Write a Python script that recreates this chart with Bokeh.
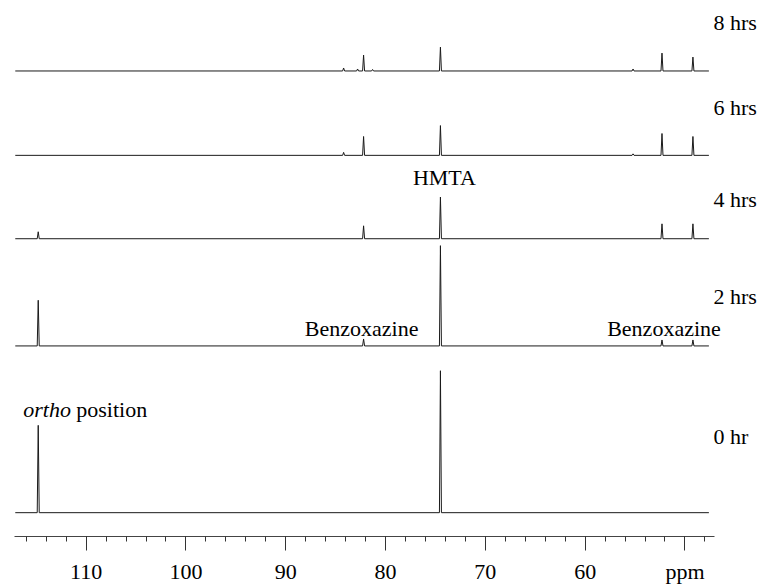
from bokeh.plotting import figure
from bokeh.models import Range1d, FixedTicker
from bokeh.embed import file_html
from bokeh.resources import INLINE
from bokeh.core.properties import value

# ---- data ----
spectrum_labels = ["0 hr", "2 hrs", "4 hrs", "6 hrs", "8 hrs"]
stack_offsets = [24, 192, 300, 384, 469]          # baseline of each trace
ppm_start = 117.1
ppm_end = 47.6
peak_ppm = [114.8, 84.2, 82.8, 82.2, 81.3, 74.5, 55.2, 52.3, 49.2]
heights_0hr = [88, 0, 0, 0, 0, 143, 0, 0, 0]
heights_2hrs = [46, 0, 0, 7, 0, 101, 0, 6, 6]
heights_4hrs = [7, 0, 0, 13, 0, 42, 0, 15, 15]
heights_6hrs = [0, 3, 0, 19, 0, 30, 1.5, 22, 19]
heights_8hrs = [0, 3, 2, 16, 1.5, 24, 2, 18, 14]
all_heights = [heights_0hr, heights_2hrs, heights_4hrs, heights_6hrs, heights_8hrs]

label_baselines = [101, 242, 340, 432, 518]
label_x_ppm = 47.15

annot_text = ["HMTA", "Benzoxazine", "Benzoxazine"]
annot_ppm = [74.1, 82.4, 52.1]
annot_y = [362, 210, 210]

ortho_ppm = 116.3
ortho_y = 128

major_ticks = [50, 60, 70, 80, 90, 100, 110]
minor_ticks = list(range(48, 118, 2))
tick_overrides = {50: "ppm"}

FONT = value("Liberation Serif")
FSIZE = "22px"

p = figure(width=758, height=586, output_backend="svg", toolbar_location=None,
           x_range=Range1d(118.58, 42.63), y_range=Range1d(0, 540),
           y_axis_location=None, min_border_left=0, min_border_right=0,
           min_border_top=0, min_border_bottom=46)
p.outline_line_color = None
p.xgrid.visible = False
p.ygrid.visible = False

peak_half_width = 0.1
for heights, base in zip(all_heights, stack_offsets):
    xs = [ppm_start]
    ys = [base]
    for pk, h in zip(peak_ppm, heights):
        if h > 0:
            xs += [pk + peak_half_width, pk, pk - peak_half_width]
            ys += [base, base + h, base]
    xs.append(ppm_end)
    ys.append(base)
    p.line(xs, ys, line_color="#1a1a1a", line_width=1)

p.text(x=[label_x_ppm] * len(spectrum_labels), y=label_baselines, text=spectrum_labels,
       text_font=FONT, text_font_size=FSIZE, text_align="left",
       text_baseline="alphabetic", text_color="black")
p.text(x=annot_ppm, y=annot_y, text=annot_text, text_font=FONT, text_font_size=FSIZE,
       text_align="center", text_baseline="alphabetic", text_color="black")
p.text(x=[ortho_ppm], y=[ortho_y], text=["ortho"], text_font=FONT, text_font_size=FSIZE,
       text_font_style="italic", text_align="left", text_baseline="alphabetic",
       text_color="black")
p.text(x=[ortho_ppm], y=[ortho_y], text=["position"], text_font=FONT, text_font_size=FSIZE,
       x_offset=53, text_align="left", text_baseline="alphabetic", text_color="black")

ax = p.xaxis[0]
ax.ticker = FixedTicker(ticks=major_ticks, minor_ticks=minor_ticks)
ax.major_label_overrides = tick_overrides
ax.bounds = (47.0, 117.2)
ax.axis_line_color = "#444444"
ax.major_tick_line_color = "#333333"
ax.minor_tick_line_color = "#333333"
ax.major_tick_in = 0
ax.major_tick_out = 14
ax.minor_tick_in = 0
ax.minor_tick_out = 5
ax.major_label_standoff = 8
ax.major_label_text_font = "Liberation Serif"
ax.major_label_text_font_size = FSIZE
ax.major_label_text_color = "black"

open("out.html", "w").write(file_html(p, INLINE))
